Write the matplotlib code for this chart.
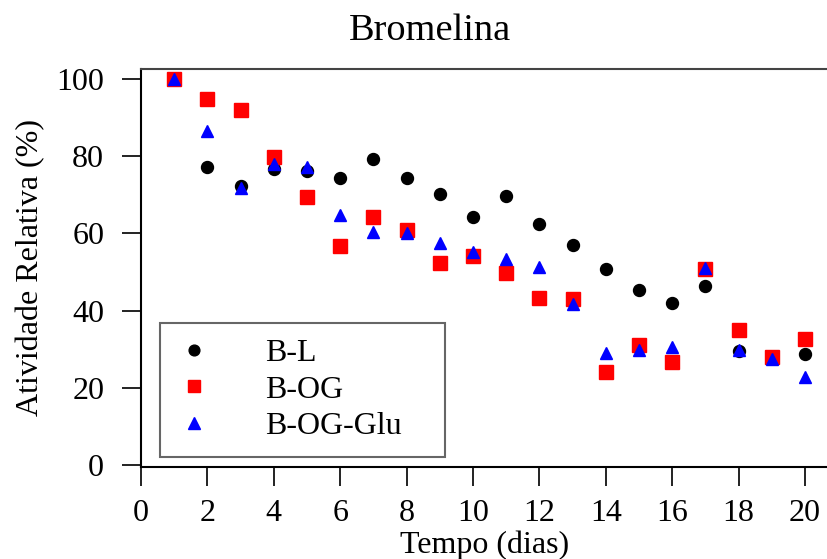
import matplotlib
matplotlib.use('Agg')
from matplotlib import pyplot as plt

# Data
dias = list(range(1, 21))
b_l = [100, 77.3, 72.3, 76.6, 76.2, 74.4, 79.2, 74.4, 70.1, 64.3,
       69.8, 62.4, 56.9, 50.9, 45.3, 41.9, 46.5, 29.5, 27.8, 28.7]
b_og = [100, 94.7, 92.1, 79.8, 69.5, 56.7, 64.3, 61.0, 52.4, 54.1,
        49.8, 43.4, 43.0, 24.1, 31.0, 26.8, 50.7, 34.9, 28.0, 32.7]
b_og_glu = [100, 86.6, 71.7, 78.0, 77.1, 64.8, 60.4, 60.2, 57.6, 55.1,
            53.3, 51.2, 41.7, 28.9, 29.8, 30.6, 51.1, 29.8, 27.6, 22.9]
x_ticks = list(range(0, 21, 2))
y_ticks = list(range(0, 101, 20))

plt.rcParams['font.family'] = ['Liberation Serif', 'DejaVu Serif']
plt.rcParams['font.size'] = 23

fig = plt.figure(figsize=(8.28, 5.59), dpi=100)
ax = fig.add_axes([0.1703, 0.1646, 0.8297, 0.712])

# Plot the three series
ax.plot(dias, b_l, 'o', color='black', markersize=8.6, label='B-L', zorder=3)
ax.plot(dias, b_og, 's', color='#ff0000', markersize=9.8, label='B-OG', zorder=4)
ax.plot(dias, b_og_glu, '^', color='#0000ff', markersize=9.0, label='B-OG-Glu', zorder=5)

ax.set_xlim(0, 20.69)
ax.set_ylim(-0.5, 102.6)
ax.set_xticks(x_ticks)
ax.set_yticks(y_ticks)

# Axes frame: left, bottom and top lines, right side is cut off
ax.spines['right'].set_visible(False)
for side in ['left', 'bottom']:
    ax.spines[side].set_linewidth(1.5)
ax.spines['top'].set_linewidth(1.5)
ax.spines['top'].set_color('#444444')

ax.tick_params(axis='both', direction='out', length=13.5, width=1.4, color='#222222')
ax.tick_params(axis='y', pad=13)
ax.tick_params(axis='x', pad=9.5)

ax.set_xlabel('Tempo (dias)', labelpad=2)
ax.set_ylabel('Atividade Relativa (%)', labelpad=8)
ax.set_title('Bromelina', x=0.42, pad=21)

# Legend with a square grey frame
leg = ax.legend(loc='lower left', bbox_to_anchor=(0.0277, 0.025, 0.415, 0.33), mode='expand',
                borderaxespad=0, borderpad=0.5, labelspacing=0.22, handlelength=1.1,
                handletextpad=1.7, markerscale=0.9, fancybox=False, framealpha=1)
leg.get_frame().set_edgecolor('#666666')
leg.get_frame().set_linewidth(1.5)

plt.savefig('out.png', dpi=100)
